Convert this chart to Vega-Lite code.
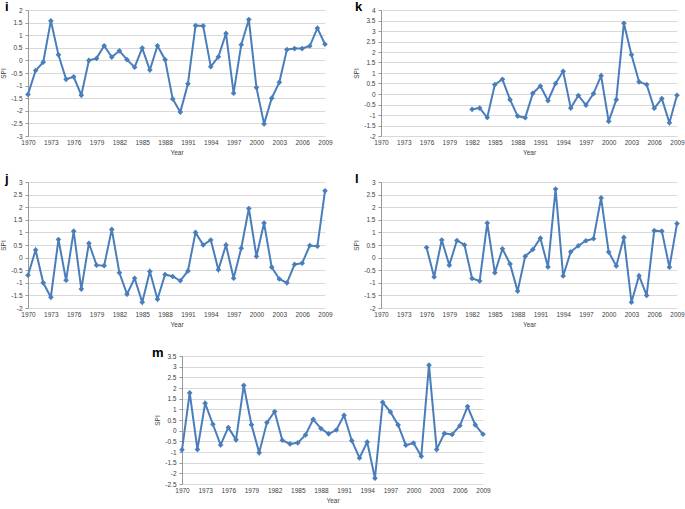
{
  "$schema": "https://vega.github.io/schema/vega-lite/v6.json",
  "padding": {"left": 0, "top": 1, "right": 0, "bottom": 0},
  "background": "white",
  "datasets": {
    "i": [
      {"year":1970,"spi":-1.35},{"year":1971,"spi":-0.4},{"year":1972,"spi":-0.07},{"year":1973,"spi":1.57},{"year":1974,"spi":0.22},
      {"year":1975,"spi":-0.75},{"year":1976,"spi":-0.65},{"year":1977,"spi":-1.38},{"year":1978,"spi":0.0},{"year":1979,"spi":0.08},
      {"year":1980,"spi":0.58},{"year":1981,"spi":0.13},{"year":1982,"spi":0.38},{"year":1983,"spi":0.03},{"year":1984,"spi":-0.27},
      {"year":1985,"spi":0.49},{"year":1986,"spi":-0.38},{"year":1987,"spi":0.58},{"year":1988,"spi":0.03},{"year":1989,"spi":-1.53},
      {"year":1990,"spi":-2.05},{"year":1991,"spi":-0.93},{"year":1992,"spi":1.38},{"year":1993,"spi":1.37},{"year":1994,"spi":-0.25},
      {"year":1995,"spi":0.14},{"year":1996,"spi":1.07},{"year":1997,"spi":-1.3},{"year":1998,"spi":0.62},{"year":1999,"spi":1.62},
      {"year":2000,"spi":-1.08},{"year":2001,"spi":-2.52},{"year":2002,"spi":-1.5},{"year":2003,"spi":-0.87},{"year":2004,"spi":0.43},
      {"year":2005,"spi":0.47},{"year":2006,"spi":0.47},{"year":2007,"spi":0.57},{"year":2008,"spi":1.28},{"year":2009,"spi":0.64}
    ],
    "k": [
      {"year":1982,"spi":-0.73},{"year":1983,"spi":-0.67},{"year":1984,"spi":-1.12},{"year":1985,"spi":0.45},{"year":1986,"spi":0.7},
      {"year":1987,"spi":-0.27},{"year":1988,"spi":-1.05},{"year":1989,"spi":-1.13},{"year":1990,"spi":0.03},{"year":1991,"spi":0.38},
      {"year":1992,"spi":-0.32},{"year":1993,"spi":0.5},{"year":1994,"spi":1.08},{"year":1995,"spi":-0.67},{"year":1996,"spi":-0.07},
      {"year":1997,"spi":-0.53},{"year":1998,"spi":0.02},{"year":1999,"spi":0.87},{"year":2000,"spi":-1.3},{"year":2001,"spi":-0.27},
      {"year":2002,"spi":3.37},{"year":2003,"spi":1.87},{"year":2004,"spi":0.58},{"year":2005,"spi":0.45},{"year":2006,"spi":-0.68},
      {"year":2007,"spi":-0.22},{"year":2008,"spi":-1.37},{"year":2009,"spi":-0.06}
    ],
    "j": [
      {"year":1970,"spi":-0.7},{"year":1971,"spi":0.3},{"year":1972,"spi":-1.0},{"year":1973,"spi":-1.57},{"year":1974,"spi":0.72},
      {"year":1975,"spi":-0.9},{"year":1976,"spi":1.05},{"year":1977,"spi":-1.25},{"year":1978,"spi":0.57},{"year":1979,"spi":-0.3},
      {"year":1980,"spi":-0.32},{"year":1981,"spi":1.12},{"year":1982,"spi":-0.6},{"year":1983,"spi":-1.45},{"year":1984,"spi":-0.82},
      {"year":1985,"spi":-1.77},{"year":1986,"spi":-0.55},{"year":1987,"spi":-1.65},{"year":1988,"spi":-0.67},{"year":1989,"spi":-0.75},
      {"year":1990,"spi":-0.92},{"year":1991,"spi":-0.53},{"year":1992,"spi":1.0},{"year":1993,"spi":0.5},{"year":1994,"spi":0.7},
      {"year":1995,"spi":-0.48},{"year":1996,"spi":0.5},{"year":1997,"spi":-0.82},{"year":1998,"spi":0.37},{"year":1999,"spi":1.95},
      {"year":2000,"spi":0.05},{"year":2001,"spi":1.37},{"year":2002,"spi":-0.38},{"year":2003,"spi":-0.85},{"year":2004,"spi":-1.0},
      {"year":2005,"spi":-0.27},{"year":2006,"spi":-0.22},{"year":2007,"spi":0.48},{"year":2008,"spi":0.45},{"year":2009,"spi":2.65}
    ],
    "l": [
      {"year":1976,"spi":0.4},{"year":1977,"spi":-0.77},{"year":1978,"spi":0.7},{"year":1979,"spi":-0.3},{"year":1980,"spi":0.68},
      {"year":1981,"spi":0.5},{"year":1982,"spi":-0.83},{"year":1983,"spi":-0.93},{"year":1984,"spi":1.37},{"year":1985,"spi":-0.6},
      {"year":1986,"spi":0.35},{"year":1987,"spi":-0.25},{"year":1988,"spi":-1.33},{"year":1989,"spi":0.05},{"year":1990,"spi":0.32},
      {"year":1991,"spi":0.77},{"year":1992,"spi":-0.37},{"year":1993,"spi":2.72},{"year":1994,"spi":-0.73},{"year":1995,"spi":0.23},
      {"year":1996,"spi":0.47},{"year":1997,"spi":0.67},{"year":1998,"spi":0.75},{"year":1999,"spi":2.37},{"year":2000,"spi":0.22},
      {"year":2001,"spi":-0.33},{"year":2002,"spi":0.8},{"year":2003,"spi":-1.77},{"year":2004,"spi":-0.72},{"year":2005,"spi":-1.5},
      {"year":2006,"spi":1.07},{"year":2007,"spi":1.05},{"year":2008,"spi":-0.38},{"year":2009,"spi":1.35}
    ],
    "m": [
      {"year":1970,"spi":-0.9},{"year":1971,"spi":1.77},{"year":1972,"spi":-0.88},{"year":1973,"spi":1.28},{"year":1974,"spi":0.3},
      {"year":1975,"spi":-0.67},{"year":1976,"spi":0.15},{"year":1977,"spi":-0.43},{"year":1978,"spi":2.12},{"year":1979,"spi":0.28},
      {"year":1980,"spi":-1.03},{"year":1981,"spi":0.38},{"year":1982,"spi":0.9},{"year":1983,"spi":-0.45},{"year":1984,"spi":-0.62},
      {"year":1985,"spi":-0.57},{"year":1986,"spi":-0.2},{"year":1987,"spi":0.53},{"year":1988,"spi":0.1},{"year":1989,"spi":-0.15},
      {"year":1990,"spi":0.03},{"year":1991,"spi":0.72},{"year":1992,"spi":-0.47},{"year":1993,"spi":-1.28},{"year":1994,"spi":-0.53},
      {"year":1995,"spi":-2.23},{"year":1996,"spi":1.33},{"year":1997,"spi":0.88},{"year":1998,"spi":0.27},{"year":1999,"spi":-0.68},
      {"year":2000,"spi":-0.58},{"year":2001,"spi":-1.2},{"year":2002,"spi":3.07},{"year":2003,"spi":-0.88},{"year":2004,"spi":-0.13},
      {"year":2005,"spi":-0.18},{"year":2006,"spi":0.23},{"year":2007,"spi":1.13},{"year":2008,"spi":0.27},{"year":2009,"spi":-0.17}
    ]
  },
  "spacing": 19,
  "vconcat": [
    {
      "spacing": 17,
      "vconcat": [
        {
          "spacing": 20,
          "hconcat": [
            {
              "title": {"text": "i", "dx": -23},
              "width": 297, "height": 126,
              "data": {"name": "i"},
              "layer": [
                {"mark": {"type": "line", "color": "#4a7ebb", "strokeWidth": 2}},
                {"mark": {"type": "point", "shape": "diamond", "filled": true, "color": "#4a7ebb", "size": 32, "opacity": 1}}
              ],
              "encoding": {
                "x": {"field": "year", "type": "quantitative", "title": "Year", "scale": {"domain": [1970, 2009], "nice": false, "zero": false},
                      "axis": {"values": [1970,1973,1976,1979,1982,1985,1988,1991,1994,1997,2000,2003,2006,2009], "format": "d", "grid": false, "domain": false, "ticks": false}},
                "y": {"field": "spi", "type": "quantitative", "title": "SPI", "scale": {"domain": [-3, 2], "nice": false, "zero": false},
                      "axis": {"values": [-3,-2.5,-2,-1.5,-1,-0.5,0,0.5,1,1.5,2], "labelExpr": "'' + datum.value"}}
              }
            },
            {
              "title": {"text": "k", "dx": -26},
              "width": 296, "height": 126,
              "data": {"name": "k"},
              "layer": [
                {"mark": {"type": "line", "color": "#4a7ebb", "strokeWidth": 2}},
                {"mark": {"type": "point", "shape": "diamond", "filled": true, "color": "#4a7ebb", "size": 32, "opacity": 1}}
              ],
              "encoding": {
                "x": {"field": "year", "type": "quantitative", "title": "Year", "scale": {"domain": [1970, 2009], "nice": false, "zero": false},
                      "axis": {"values": [1970,1973,1976,1979,1982,1985,1988,1991,1994,1997,2000,2003,2006,2009], "format": "d", "grid": false, "domain": false, "ticks": false}},
                "y": {"field": "spi", "type": "quantitative", "title": "SPI", "scale": {"domain": [-2, 4], "nice": false, "zero": false},
                      "axis": {"values": [-2,-1.5,-1,-0.5,0,0.5,1,1.5,2,2.5,3,3.5,4], "labelExpr": "'' + datum.value"}}
              }
            }
          ]
        },
        {
          "spacing": 20,
          "hconcat": [
            {
              "title": {"text": "j", "dx": -23},
              "width": 297, "height": 126,
              "data": {"name": "j"},
              "layer": [
                {"mark": {"type": "line", "color": "#4a7ebb", "strokeWidth": 2}},
                {"mark": {"type": "point", "shape": "diamond", "filled": true, "color": "#4a7ebb", "size": 32, "opacity": 1}}
              ],
              "encoding": {
                "x": {"field": "year", "type": "quantitative", "title": "Year", "scale": {"domain": [1970, 2009], "nice": false, "zero": false},
                      "axis": {"values": [1970,1973,1976,1979,1982,1985,1988,1991,1994,1997,2000,2003,2006,2009], "format": "d", "grid": false, "domain": false, "ticks": false}},
                "y": {"field": "spi", "type": "quantitative", "title": "SPI", "scale": {"domain": [-2, 3], "nice": false, "zero": false},
                      "axis": {"values": [-2,-1.5,-1,-0.5,0,0.5,1,1.5,2,2.5,3], "labelExpr": "'' + datum.value"}}
              }
            },
            {
              "title": {"text": "l", "dx": -26},
              "width": 296, "height": 126,
              "data": {"name": "l"},
              "layer": [
                {"mark": {"type": "line", "color": "#4a7ebb", "strokeWidth": 2}},
                {"mark": {"type": "point", "shape": "diamond", "filled": true, "color": "#4a7ebb", "size": 32, "opacity": 1}}
              ],
              "encoding": {
                "x": {"field": "year", "type": "quantitative", "title": "Year", "scale": {"domain": [1970, 2009], "nice": false, "zero": false},
                      "axis": {"values": [1970,1973,1976,1979,1982,1985,1988,1991,1994,1997,2000,2003,2006,2009], "format": "d", "grid": false, "domain": false, "ticks": false}},
                "y": {"field": "spi", "type": "quantitative", "title": "SPI", "scale": {"domain": [-2, 3], "nice": false, "zero": false},
                      "axis": {"values": [-2,-1.5,-1,-0.5,0,0.5,1,1.5,2,2.5,3], "labelExpr": "'' + datum.value"}}
              }
            }
          ]
        }
      ]
    },
    {
      "spacing": 0,
      "hconcat": [
        {
          "width": 124, "height": 128,
          "data": {"values": []},
          "mark": {"type": "point", "opacity": 0},
          "encoding": {}
        },
        {
          "title": {"text": "m", "dx": -30},
          "width": 301, "height": 128,
          "data": {"name": "m"},
          "layer": [
            {"mark": {"type": "line", "color": "#4a7ebb", "strokeWidth": 2}},
            {"mark": {"type": "point", "shape": "diamond", "filled": true, "color": "#4a7ebb", "size": 32, "opacity": 1}}
          ],
          "encoding": {
            "x": {"field": "year", "type": "quantitative", "title": "Year", "scale": {"domain": [1970, 2009], "nice": false, "zero": false},
                  "axis": {"values": [1970,1973,1976,1979,1982,1985,1988,1991,1994,1997,2000,2003,2006,2009], "format": "d", "grid": false, "domain": false, "ticks": false}},
            "y": {"field": "spi", "type": "quantitative", "title": "SPI", "scale": {"domain": [-2.5, 3.5], "nice": false, "zero": false},
                  "axis": {"values": [-2.5,-2,-1.5,-1,-0.5,0,0.5,1,1.5,2,2.5,3,3.5], "labelExpr": "'' + datum.value"}}
          }
        }
      ]
    }
  ],
  "config": {
    "view": {"stroke": null},
    "title": {"fontSize": 13, "fontWeight": "bold", "anchor": "start", "frame": "group", "baseline": "alphabetic", "offset": -7, "color": "#000000", "font": "Liberation Sans"},
    "axis": {
      "labelFont": "Liberation Sans", "labelFontSize": 6.5, "labelColor": "#404040", "labelPadding": 3,
      "labelFlush": false, "labelOverlap": false,
      "titleFont": "Liberation Sans", "titleFontSize": 6.5, "titleFontWeight": "normal", "titleColor": "#404040", "titlePadding": 4,
      "gridColor": "#d9d9d9", "gridWidth": 1, "domainColor": "#999999", "tickColor": "#999999", "tickSize": 3
    },
    "axisY": {"ticks": true, "labelPadding": 3}
  }
}
